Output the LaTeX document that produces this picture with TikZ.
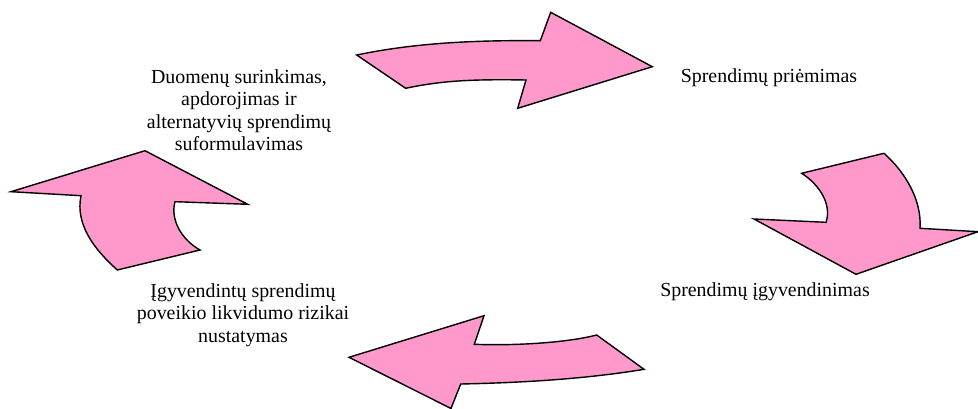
\documentclass[tikz,border=0pt]{standalone}
\usepackage{fontspec}
\setmainfont{Liberation Serif}
\definecolor{arrowpink}{HTML}{FF99CC}
\begin{document}
\begin{tikzpicture}[x=1pt,y=-1pt,
  blockarrow/.style={fill=arrowpink,draw=black,line width=1.4pt,line join=miter},
  label/.style={align=center,inner sep=0pt,font=\fontsize{19.9}{22.4}\selectfont}]
\useasboundingbox (0,0) rectangle (978,409);

% cycle stages
\node[label] (collect) at (239,110) {Duomenų surinkimas,\\apdorojimas ir\\alternatyvių sprendimų\\suformulavimas};
\node[label] (decide) at (769,78) {Sprendimų priėmimas};
\node[label] (implement) at (765,292) {Sprendimų įgyvendinimas};
\node[label] (assess) at (243,315) {Įgyvendintų sprendimų\\poveikio likvidumo rizikai\\nustatymas};

% top arrow, pointing right
\draw[blockarrow] (356.7,55) .. controls (410,44) and (465,40) .. (540.3,40.7)
  -- (550.7,12.3) -- (652.3,66.7) -- (517.7,108.3) -- (526,80)
  .. controls (470,79) and (440,81) .. (405.7,88.3) -- cycle;

% right arrow, pointing down
\draw[blockarrow] (801.7,173.3) .. controls (820,185) and (832,205) .. (826,222.3)
  -- (754,219) -- (856,274.3) -- (978,231.7) -- (920,228.3)
  .. controls (922,200) and (905,172) .. (884,153.3) -- cycle;

% bottom arrow, pointing left
\draw[blockarrow] (596.7,335) .. controls (570,342) and (520,346) .. (474.3,344.3)
  -- (484,315.7) -- (349,357.3) -- (451,408.5) -- (460.7,384)
  .. controls (510,383) and (580,380) .. (644,369.3) -- cycle;

% left arrow, pointing up
\draw[blockarrow] (117.3,270) .. controls (95,250) and (75,225) .. (81,195.7)
  -- (11,191.7) -- (145,150.7) -- (247.7,204.3) -- (175,201.7)
  .. controls (170,220) and (182,240) .. (200,250) -- cycle;
\end{tikzpicture}
\end{document}
